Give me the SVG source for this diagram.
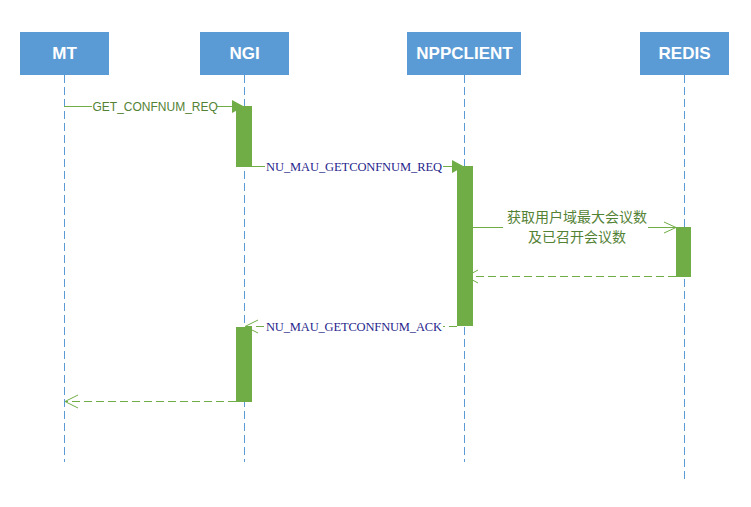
<svg xmlns="http://www.w3.org/2000/svg" width="751" height="507" viewBox="0 0 751 507">
<style>
.hdr{fill:#5B9BD5}
.hdrt{fill:#fff;font-family:"Liberation Sans",Arial,sans-serif;font-weight:bold;font-size:17px;text-anchor:middle}
.life{stroke:#5B9BD5;stroke-width:1;stroke-dasharray:8,4;fill:none}
.act{fill:#70AD47}
.msg{stroke:#70AD47;stroke-width:1;fill:none}
.dash{stroke:#70AD47;stroke-width:1;fill:none;stroke-dasharray:8,4}
.arr{stroke:#70AD47;stroke-width:1;fill:none}
.gt{fill:#548235;font-family:"Liberation Sans",Arial,sans-serif;font-size:12px}
.ct{fill:#548235;font-family:"Noto Sans CJK SC",sans-serif;font-size:14px;text-anchor:middle}
.nt{fill:#1F1F8C;font-family:"Liberation Serif","Times New Roman",serif;font-size:12.5px}
</style>
<rect width="751" height="507" fill="#fff"/>
<g id="MT"><rect class="hdr" x="20" y="32" width="89" height="43"/><text class="hdrt" x="64.5" y="59">MT</text><line class="life" x1="64.5" y1="75" x2="64.5" y2="462"/></g>
<g id="NGI"><rect class="hdr" x="200" y="32" width="89" height="43"/><text class="hdrt" x="244.5" y="59">NGI</text><line class="life" x1="244.5" y1="75" x2="244.5" y2="462"/></g>
<g id="NPPCLIENT"><rect class="hdr" x="407" y="32" width="114" height="43"/><text class="hdrt" x="464.5" y="59">NPPCLIENT</text><line class="life" x1="464.5" y1="75" x2="464.5" y2="462"/></g>
<g id="REDIS"><rect class="hdr" x="640" y="32" width="89" height="43"/><text class="hdrt" x="684.5" y="59">REDIS</text><line class="life" x1="684.5" y1="75" x2="684.5" y2="481"/></g>
<g id="connectors">
<line class="msg" x1="64" y1="106.5" x2="92" y2="106.5"/>
<line class="msg" x1="217" y1="106.5" x2="234" y2="106.5"/>
<polygon points="232,100 244,106.5 232,113" fill="#70AD47"/>
<line class="msg" x1="252" y1="166.5" x2="265" y2="166.5"/>
<line class="msg" x1="443" y1="166.5" x2="454" y2="166.5"/>
<polygon points="452,160 464,166.5 452,173" fill="#70AD47"/>
<line class="msg" x1="472" y1="227.5" x2="503" y2="227.5"/>
<line class="msg" x1="648" y1="227.5" x2="676" y2="227.5"/>
<polyline class="arr" points="664,222 676,227.5 664,233"/>
<line class="dash" x1="676" y1="276.5" x2="472" y2="276.5"/>
<polyline class="arr" points="478,270 466,276.5 478,283"/>
<line class="dash" x1="457" y1="326.5" x2="443" y2="326.5"/>
<line class="dash" x1="264" y1="326.5" x2="246" y2="326.5"/>
<polyline class="arr" points="258,320 245,326.5 258,333"/>
<line class="dash" x1="236" y1="401.5" x2="65" y2="401.5"/>
<polyline class="arr" points="78,395 65,401.5 78,408"/>
</g>
<g id="activations">
<rect class="act" x="236" y="106" width="16" height="61"/>
<rect class="act" x="457" y="166" width="16" height="160"/>
<rect class="act" x="676" y="227" width="15" height="50"/>
<rect class="act" x="236" y="327" width="16" height="75"/>
</g>
<g id="labels">
<text class="gt" x="92.5" y="110.5">GET_CONFNUM_REQ</text>
<text class="nt" x="266" y="171" textLength="176">NU_MAU_GETCONFNUM_REQ</text>
<text class="ct" x="577" y="222">获取用户域最大会议数</text>
<text class="ct" x="577" y="242">及已召开会议数</text>
<text class="nt" x="266" y="331" textLength="176">NU_MAU_GETCONFNUM_ACK</text>
</g>
</svg>
